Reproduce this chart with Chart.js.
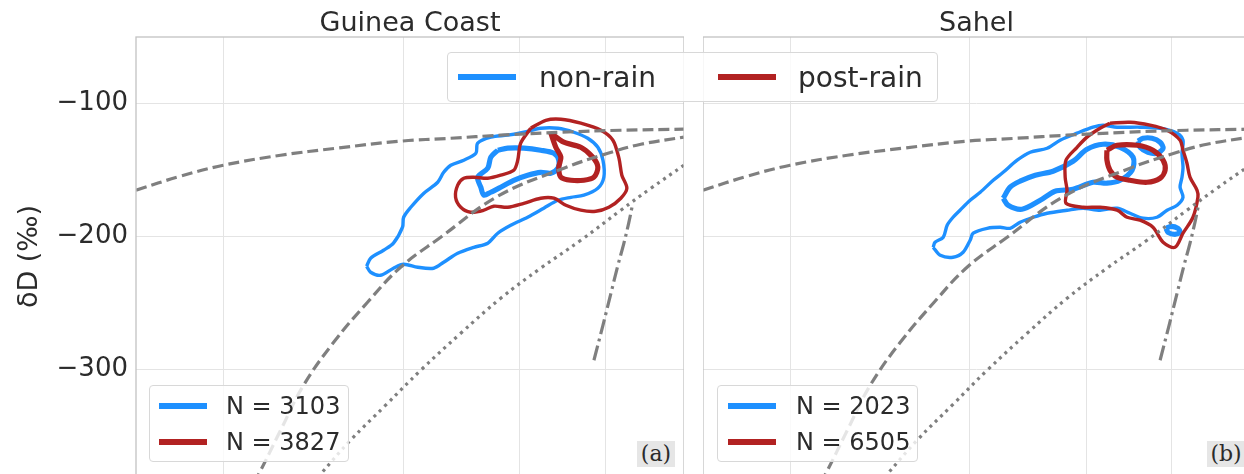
<!DOCTYPE html>
<html>
<head>
<meta charset="utf-8">
<script src="https://cdn.jsdelivr.net/npm/chart.js@4.4.1/dist/chart.umd.min.js"></script>
<style>
  html, body { margin: 0; padding: 0; background: #fff; overflow: hidden; }
  body { width: 1244px; height: 474px; position: relative; font-family: "DejaVu Sans", sans-serif; color: #2b2b2b; }
  .panel { position: absolute; top: 0; height: 476px; }
  #guineaBox { left: 0; width: 684px; }
  #sahelBox { left: 703px; width: 547px; }
  .legend { position: absolute; box-sizing: border-box; background: rgba(255,255,255,0.8);
            border: 1px solid #d8d8d8; border-radius: 4px; z-index: 5; }
  .item { position: absolute; display: flex; align-items: center; white-space: nowrap; }
  .swatch { display: inline-block; height: 6px; }
  .tag { position: absolute; z-index: 5; font-family: "DejaVu Serif", serif; font-size: 22px; background: #e6e6e6;
         width: 38px; height: 26px; line-height: 26px; text-align: center; }
</style>
</head>
<body>
<div class="panel" id="guineaBox"><canvas id="guineaChart"></canvas></div>
<div class="panel" id="sahelBox"><canvas id="sahelChart"></canvas></div>
<div class="legend" id="topLegend" style="left:447px; top:52px; width:491px; height:50px;"></div>
<div class="legend" id="guineaLegend" style="left:149px; top:385px; width:200px; height:77px;"></div>
<div class="legend" id="sahelLegend" style="left:717px; top:385px; width:201px; height:77px;"></div>
<div class="tag" style="left:637px; top:441px;">(a)</div>
<div class="tag" style="left:1207px; top:441px;">(b)</div>

<script>
// axes
const qMin = 5.39, qMax = 27.8;          // specific humidity (g/kg), log axis
const dMin = -380, dMax = -50;           // deltaD (permil)
const qGridTicks = [7, 12, 17, 22];
const dTicks = [-100, -200, -300];

const seriesNames = ['non-rain', 'post-rain'];
const seriesColors = ['#1e90ff', '#b22222'];
const guineaCounts = [3103, 3827];
const sahelCounts = [2023, 6505];

// reference curves, [q, dD], same in both panels
const mixingLine = [[5.39,-165.2],[6.15,-154.7],[7.00,-146.4],[8.31,-138.9],[9.82,-133.6],[11.90,-128.3],[13.83,-126.1],[16.06,-123.8],[19.23,-121.6],[23.01,-120.1],[27.79,-119.3]];
const rayleighLine = [[7.65,-385],[7.78,-378.7],[8.31,-345.6],[8.90,-311.8],[9.74,-279.5],[10.78,-249.4],[11.90,-223.1],[13.42,-200.5],[15.92,-169.7],[19.40,-148.6],[22.14,-137.4],[24.43,-130.6],[27.79,-125.3]];
const dottedLine = [[9.14,-385],[9.36,-378.7],[10.24,-353.2],[11.38,-326.8],[12.64,-300.5],[14.25,-272.7],[16.06,-246.4],[18.10,-223.8],[20.41,-202.8],[23.01,-180.2],[25.18,-163.7],[27.79,-146.4]];
const evapLine = [[21.23,-293.0],[21.81,-266.7],[22.34,-242.6],[22.81,-221.6],[23.22,-205.1],[23.57,-189.3],[23.85,-175.0]];

// Guinea Coast contours
const guineaNonRainOuter = [[10.75,-222.3],[10.88,-226.8],[11.21,-229.1],[11.65,-223.8],[12.01,-220.8],[12.53,-223.1],[13.14,-223.8],[13.54,-219.3],[14.12,-212.6],[14.82,-208.1],[15.45,-205.0],[15.92,-197.5],[16.55,-191.5],[17.41,-185.5],[18.27,-178.7],[19.06,-172.7],[19.82,-170.5],[20.60,-168.9],[21.48,-163.7],[21.87,-155.4],[21.81,-142.6],[21.48,-132.9],[20.84,-126.1],[19.99,-121.6],[19.06,-118.6],[18.10,-118.6],[17.21,-121.6],[16.40,-123.8],[15.59,-125.3],[14.99,-129.8],[14.91,-137.4],[14.38,-142.6],[13.83,-146.4],[13.54,-151.7],[13.30,-159.2],[12.76,-167.4],[12.27,-178.0],[12.01,-185.5],[11.97,-193.0],[11.65,-205.0],[11.31,-210.3],[10.88,-216.3]];
const guineaNonRainInner = [[15.92,-135.1],[16.40,-133.6],[17.21,-133.6],[18.10,-135.1],[18.83,-137.4],[19.11,-142.6],[19.06,-148.6],[18.66,-152.4],[18.10,-151.7],[17.41,-153.9],[16.70,-157.7],[16.06,-162.9],[15.59,-166.7],[15.27,-168.9],[15.13,-162.9],[14.99,-155.4],[15.45,-148.6],[15.59,-140.4]];
const guineaPostRainOuter = [[17.57,-118.6],[18.38,-112.6],[19.23,-111.8],[20.41,-114.8],[21.68,-120.1],[22.47,-127.6],[22.88,-141.1],[23.08,-153.9],[23.43,-163.7],[23.01,-171.2],[22.20,-178.0],[21.35,-181.0],[20.41,-180.2],[19.52,-176.5],[18.83,-171.2],[18.10,-171.2],[17.21,-175.0],[16.40,-178.0],[15.73,-177.2],[15.27,-180.2],[14.68,-181.7],[14.25,-178.0],[14.03,-170.5],[14.12,-161.4],[14.38,-156.2],[14.82,-155.4],[15.45,-156.2],[16.06,-153.9],[16.70,-150.2],[16.90,-142.6],[17.05,-129.8]];
const guineaPostRainInner = [[18.66,-122.3],[19.40,-129.1],[20.41,-132.9],[21.16,-140.4],[21.48,-147.9],[21.23,-155.4],[20.60,-157.7],[19.82,-157.7],[19.23,-155.4],[19.11,-147.9],[19.23,-140.4],[18.94,-132.9]];

// Sahel contours
const sahelNonRainOuter = [[10.75,-208.1],[10.98,-214.1],[11.41,-215.6],[11.76,-211.8],[12.01,-202.8],[12.12,-197.5],[12.64,-193.8],[13.14,-193.0],[13.54,-193.8],[13.95,-189.3],[14.51,-185.5],[15.13,-182.5],[16.06,-180.2],[16.85,-178.7],[17.73,-180.2],[18.66,-178.7],[19.40,-182.5],[20.17,-186.2],[21.03,-185.5],[21.68,-180.2],[22.34,-176.5],[22.74,-170.5],[22.54,-162.9],[22.67,-155.4],[22.74,-147.9],[22.67,-137.4],[22.74,-127.6],[22.34,-122.3],[21.23,-118.6],[19.99,-117.8],[18.66,-117.8],[17.89,-116.3],[17.36,-117.8],[16.55,-122.3],[15.73,-127.6],[15.13,-133.6],[14.38,-136.6],[13.83,-142.6],[13.26,-151.7],[12.87,-157.7],[12.38,-166.7],[12.01,-172.7],[11.65,-180.2],[11.41,-185.5],[11.21,-191.5],[11.08,-200.5],[10.81,-204.3]];
const sahelNonRainInner = [[13.26,-171.2],[13.54,-162.9],[13.95,-158.4],[14.60,-153.9],[15.40,-150.9],[16.35,-143.4],[17.05,-134.4],[17.89,-130.6],[18.83,-132.9],[19.58,-140.4],[19.52,-150.2],[18.83,-157.7],[18.10,-159.9],[17.36,-159.2],[16.35,-164.4],[15.49,-165.9],[14.82,-172.7],[14.03,-179.5],[13.46,-176.5]];
const sahelNonRainSpotTop = [[19.87,-128.3],[20.17,-126.1],[20.72,-126.1],[21.23,-129.1],[21.42,-133.6],[21.03,-137.4],[20.47,-136.6],[19.99,-132.9]];
const sahelNonRainSpotLow = [[21.61,-193.8],[21.94,-192.3],[22.40,-193.8],[22.54,-196.8],[22.20,-198.3],[21.74,-196.8]];
const sahelPostRainOuter = [[18.27,-114.8],[19.40,-114.1],[20.60,-116.3],[21.68,-120.1],[22.54,-127.6],[22.74,-135.1],[23.01,-144.9],[23.22,-155.4],[23.72,-165.2],[23.78,-170.5],[23.43,-185.5],[22.74,-197.5],[22.20,-208.1],[21.42,-204.3],[20.78,-193.0],[19.99,-187.7],[19.23,-185.5],[18.66,-180.2],[17.73,-178.0],[16.85,-178.0],[16.01,-175.0],[16.06,-165.2],[15.97,-155.4],[16.01,-142.6],[16.55,-132.9],[17.05,-125.3],[17.73,-118.6]];
const sahelPostRainInner = [[18.10,-135.1],[18.66,-131.4],[19.82,-131.4],[20.78,-135.1],[21.42,-142.6],[21.55,-150.2],[21.23,-156.2],[20.41,-159.2],[19.40,-157.7],[18.66,-155.4],[18.27,-150.2],[18.10,-142.6]];

const textColor = '#2b2b2b';
const gridColor = '#e4e4e4';
const refGray = '#7f7f7f';

function toXY(pts) { return pts.map(p => ({ x: p[0], y: p[1] })); }

function refLine(pts, dash) {
    return { data: toXY(pts), showLine: true, pointRadius: 0, borderColor: refGray,
             borderWidth: 3.2, borderDash: dash, tension: 0.4, fill: false };
}

function contour(pts, color, width) {
    const closed = pts.concat([pts[0]]);
    return { data: toXY(closed), showLine: true, pointRadius: 0, borderColor: color,
             borderWidth: width, tension: 0.3, fill: false };
}

// box round the plot area
const framePlugin = {
    id: 'frame',
    afterDraw(chart) {
        const { ctx, chartArea: a } = chart;
        ctx.save();
        ctx.strokeStyle = '#c2c2c2';
        ctx.lineWidth = 1.3;
        ctx.strokeRect(a.left, a.top, a.right - a.left, a.bottom - a.top);
        ctx.restore();
    }
};

function makePanel(canvasId, title, nonRain, postRain, withYAxis) {
    const datasets = [
        refLine(mixingLine, [11, 5]),
        refLine(rayleighLine, [11, 5]),
        refLine(dottedLine, [3, 4.5]),
        refLine(evapLine, [15, 4.5, 3, 4.5]),
    ];
    postRain.forEach((c, i) => datasets.push(contour(c, seriesColors[1], i === 0 ? 3.4 : 5.2)));
    nonRain.forEach((c, i) => datasets.push(contour(c, seriesColors[0], i === 0 ? 3.4 : 5.2)));

    return new Chart(document.getElementById(canvasId), {
        type: 'scatter',
        data: { datasets: datasets },
        options: {
            responsive: true,
            maintainAspectRatio: false,
            animation: false,
            events: [],
            layout: { padding: 0 },
            plugins: {
                legend: { display: false },
                tooltip: { enabled: false },
                title: {
                    display: true,
                    text: title,
                    fullSize: false,
                    color: textColor,
                    font: { family: 'DejaVu Sans', size: 27, weight: 'normal', lineHeight: 1 },
                    padding: { top: 10, bottom: 0 },
                },
            },
            scales: {
                x: {
                    type: 'logarithmic',
                    min: qMin,
                    max: qMax,
                    afterBuildTicks: s => { s.ticks = qGridTicks.map(v => ({ value: v })); },
                    ticks: { display: false },
                    grid: { color: gridColor, drawTicks: false },
                    border: { display: false },
                },
                y: {
                    type: 'linear',
                    min: dMin,
                    max: dMax,
                    afterBuildTicks: s => { s.ticks = dTicks.map(v => ({ value: v })); },
                    afterFit: s => {
                        s.width = withYAxis ? 136 : 0;
                        s.paddingTop = 0;
                        s.paddingBottom = 0;
                    },
                    ticks: {
                        display: withYAxis,
                        color: textColor,
                        padding: 8,
                        font: { family: 'DejaVu Sans', size: 26 },
                        callback: v => '\u2212' + Math.abs(v),
                    },
                    grid: { color: gridColor, drawTicks: false },
                    border: { display: false },
                    title: {
                        display: withYAxis,
                        text: 'δD (‰)',
                        color: textColor,
                        font: { family: 'DejaVu Sans', size: 27 },
                        padding: { top: 14, bottom: 0 },
                    },
                },
            },
        },
        plugins: [framePlugin],
    });
}

makePanel('guineaChart', 'Guinea Coast',
    [guineaNonRainOuter, guineaNonRainInner],
    [guineaPostRainOuter, guineaPostRainInner], true);

makePanel('sahelChart', 'Sahel',
    [sahelNonRainOuter, sahelNonRainInner, sahelNonRainSpotTop, sahelNonRainSpotLow],
    [sahelPostRainOuter, sahelPostRainInner], false);

// legends
function addItem(box, left, centerY, swatchW, gap, color, label, fontSize) {
    const item = document.createElement('div');
    item.className = 'item';
    item.style.left = left + 'px';
    item.style.top = (centerY - 20) + 'px';
    item.style.height = '40px';
    const sw = document.createElement('span');
    sw.className = 'swatch';
    sw.style.width = swatchW + 'px';
    sw.style.background = color;
    const tx = document.createElement('span');
    tx.style.marginLeft = gap + 'px';
    tx.style.fontSize = fontSize + 'px';
    tx.textContent = label;
    item.appendChild(sw);
    item.appendChild(tx);
    box.appendChild(item);
}

const topLegend = document.getElementById('topLegend');
addItem(topLegend, 10, 24, 58, 23, seriesColors[0], seriesNames[0], 28);
addItem(topLegend, 270, 24, 58, 22, seriesColors[1], seriesNames[1], 28);

const guineaLegend = document.getElementById('guineaLegend');
addItem(guineaLegend, 9, 20, 48, 19, seriesColors[0], 'N = ' + guineaCounts[0], 24);
addItem(guineaLegend, 9, 56, 48, 19, seriesColors[1], 'N = ' + guineaCounts[1], 24);

const sahelLegend = document.getElementById('sahelLegend');
addItem(sahelLegend, 10, 20, 48, 20, seriesColors[0], 'N = ' + sahelCounts[0], 24);
addItem(sahelLegend, 10, 56, 48, 20, seriesColors[1], 'N = ' + sahelCounts[1], 24);
</script>
</body>
</html>
